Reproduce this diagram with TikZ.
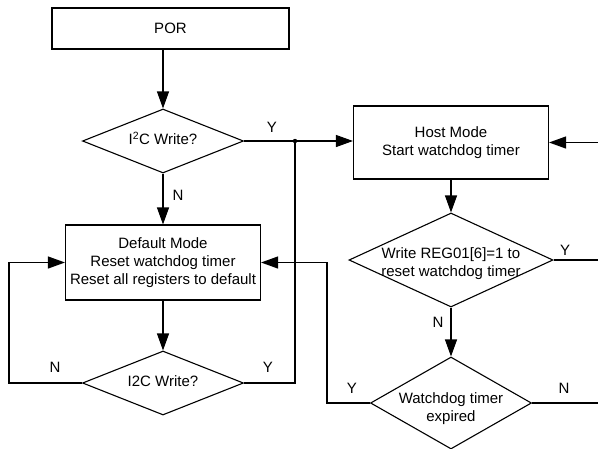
\documentclass[tikz,border=0pt]{standalone}
\usepackage{fontspec}
\setmainfont{Liberation Sans}
\usetikzlibrary{arrows.meta,shapes.geometric}
\newcommand{\dtext}[2][0pt]{\raisebox{#1}[\height][\depth]{\makebox[0pt]{\begin{tabular}{@{}c@{}}#2\end{tabular}}}}

\begin{document}
\begin{tikzpicture}[x=1pt,y=-1pt,
  font=\fontsize{15}{18}\selectfont,
  line width=1.1pt,
  box/.style={draw,rectangle,inner sep=0pt,align=center},
  decision/.style={draw,diamond,inner sep=0pt},
  lbl/.style={inner sep=0pt},
  arr/.style={-{Triangle[length=17pt,width=12pt]}}]
\useasboundingbox (0,0) rectangle (598,448);
\node[box,minimum width=237pt,minimum height=41pt] (por) at (170.5,28.5) {POR};
\node[decision,minimum width=161pt,minimum height=64pt] (d1) at (163,141) {\dtext{I\textsuperscript{2}C Write?}};
\node[box,minimum width=195pt,minimum height=75pt] (dm) at (163,262.5) {Default Mode\\Reset watchdog timer\\Reset all registers to default};
\node[decision,minimum width=161pt,minimum height=64pt] (d2) at (163,383) {\dtext{I2C Write?}};
\node[box,minimum width=195pt,minimum height=73pt] (host) at (451,142.5) {Host Mode\\Start watchdog timer};
\node[decision,minimum width=204pt,minimum height=94pt] (wr) at (451,260) {\dtext[-4pt]{Write REG01[6]=1 to\\reset watchdog timer}};
\node[decision,minimum width=161pt,minimum height=92pt] (wdt) at (451,403) {\dtext[-6pt]{Watchdog timer\\expired}};
\coordinate (j) at (295,141);
\coordinate (nl) at (9,383);
\coordinate (yl) at (327,403);
\coordinate (e1) at (598,260);
\coordinate (e2) at (598,403);
\coordinate (e3) at (598,142.5);
\draw[arr] (d1.north |- por.south) -- (d1.north);
\draw[arr] (d1.south) -- (dm.north);
\draw (d1.east) -- (j);
\draw[arr] (j) -- (host.west |- j);
\fill (j) circle (2.2pt);
\draw (d2.east) -| (j);
\draw[arr] (dm.south) -- (d2.north);
\draw[arr] (d2.west) -- (nl) |- (dm.west);
\draw[arr] (host.south) -- (wr.north);
\draw[arr] (wr.south) -- (wdt.north);
\draw[arr] (wdt.west) -- (yl) |- (dm.east);
\draw (wr.east) -- (e1);
\draw (wdt.east) -- (e2);
\draw[arr] (e3) -- (host.east);
\node[lbl] (y1) at (272,127) {Y};
\node[lbl] (n1) at (178,195) {N};
\node[lbl] (n2) at (55,367) {N};
\node[lbl] (y2) at (268,367) {Y};
\node[lbl] (y3) at (565,250) {Y};
\node[lbl] (n3) at (438,322) {N};
\node[lbl] (y4) at (352,388) {Y};
\node[lbl] (n4) at (564,388) {N};
\end{tikzpicture}
\end{document}
